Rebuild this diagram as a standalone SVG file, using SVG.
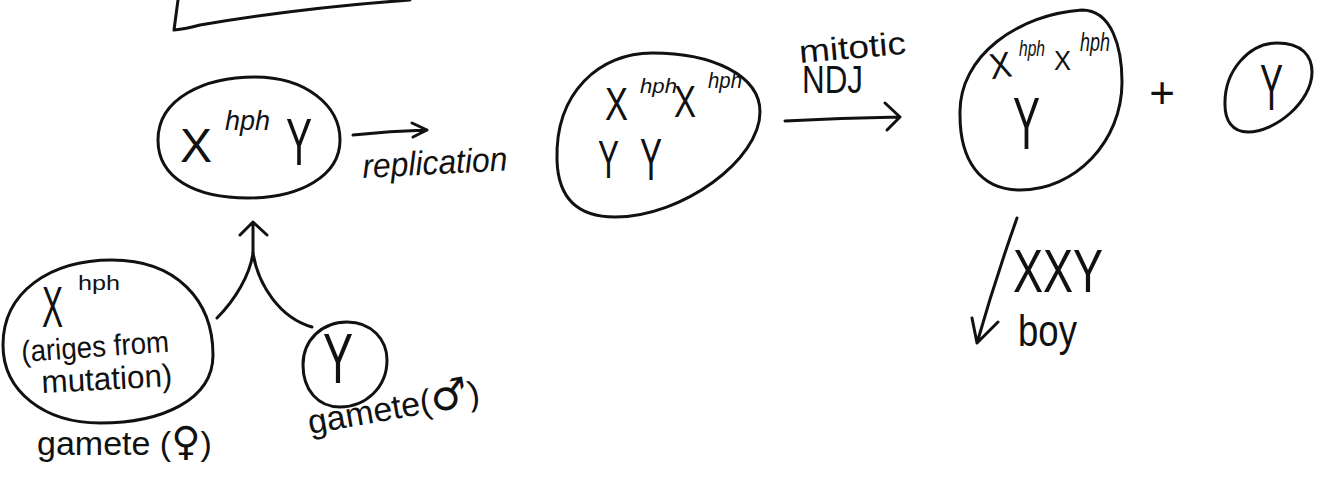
<svg xmlns="http://www.w3.org/2000/svg" width="1326" height="484" viewBox="0 0 1326 484">
<defs>
<style>
.sh{fill:none;stroke:#111;stroke-width:3;stroke-linecap:round;stroke-linejoin:round}
.t{font-family:"Liberation Sans","DejaVu Sans",sans-serif;fill:#111}
.sym{font-family:"DejaVu Sans","Liberation Sans",sans-serif}
</style>
</defs>
<rect width="1326" height="484" fill="#fff"/>
<g id="title-box">
<path class="sh" d="M178,0 L174,30 Q186,29 200,25 Q300,8 410,0"/>
</g>
<g id="zygote">
<path class="sh" d="M158,140 C158,98 205,77 255,77 C305,77 340,105 340,140 C340,176 300,198 248,198 C195,198 158,178 158,140 Z"/>
<text class="t" x="180" y="162" font-size="48" textLength="32" lengthAdjust="spacingAndGlyphs">X</text>
<text class="t" x="225" y="130" font-size="27" font-style="italic" textLength="45" lengthAdjust="spacingAndGlyphs">hph</text>
<text class="t" x="286" y="165" font-size="66" textLength="26" lengthAdjust="spacingAndGlyphs">Y</text>
</g>
<g id="replicated">
<path class="sh" d="M557,160 C555,92 600,53 652,53 C712,53 760,75 760,112 C760,160 682,217 615,217 C575,217 558,196 557,160 Z"/>
<text class="t" x="605" y="120" font-size="46" textLength="23" lengthAdjust="spacingAndGlyphs">X</text>
<text class="t" x="640" y="93" font-size="21" font-style="italic" textLength="37" lengthAdjust="spacingAndGlyphs">hph</text>
<text class="t" x="674" y="117" font-size="45" textLength="22" lengthAdjust="spacingAndGlyphs">X</text>
<text class="t" x="708" y="88" font-size="22" font-style="italic" textLength="34" lengthAdjust="spacingAndGlyphs">hph</text>
<text class="t" x="598" y="178" font-size="53" textLength="21" lengthAdjust="spacingAndGlyphs">Y</text>
<text class="t" x="640" y="180" font-size="60" textLength="22" lengthAdjust="spacingAndGlyphs">Y</text>
</g>
<g id="cell-xxy">
<path class="sh" d="M960,115 C958,55 1020,14 1082,10 C1112,10 1122,48 1122,82 C1122,142 1075,190 1020,190 C980,190 960,160 960,115 Z"/>
<text class="t" x="990" y="78" font-size="36" textLength="22" lengthAdjust="spacingAndGlyphs" transform="rotate(-8 1000 70)">X</text>
<text class="t" x="1019" y="56" font-size="22" font-style="italic" textLength="26" lengthAdjust="spacingAndGlyphs">hph</text>
<text class="t" x="1054" y="70" font-size="28" textLength="17" lengthAdjust="spacingAndGlyphs">X</text>
<text class="t" x="1080" y="51" font-size="25" font-style="italic" textLength="30" lengthAdjust="spacingAndGlyphs">hph</text>
<text class="t" x="1013" y="149" font-size="74" textLength="27" lengthAdjust="spacingAndGlyphs">Y</text>
</g>
<g id="plus">
<text class="t" x="1162" y="108" font-size="44" text-anchor="middle">+</text>
</g>
<g id="cell-y">
<path class="sh" d="M1225,105 C1224,70 1250,43 1277,43 C1302,43 1312,56 1312,72 C1312,102 1275,132 1248,132 C1232,132 1225,120 1225,105 Z"/>
<text class="t" x="1260" y="110" font-size="65" textLength="23" lengthAdjust="spacingAndGlyphs">Y</text>
</g>
<g id="gamete-female">
<path class="sh" d="M3,345 C3,292 50,260 112,260 C176,260 213,300 213,355 C213,400 162,423 100,423 C45,423 3,392 3,345 Z"/>
<text class="t" x="42" y="327" font-size="58" textLength="21" lengthAdjust="spacingAndGlyphs">X</text>
<text class="t" x="78" y="290" font-size="20" textLength="42" lengthAdjust="spacingAndGlyphs">hph</text>
<text class="t" x="22" y="362" font-size="30" textLength="148" lengthAdjust="spacingAndGlyphs" transform="rotate(-4 22 362)">(ariges from</text>
<text class="t" x="42" y="393" font-size="32" textLength="131" lengthAdjust="spacingAndGlyphs" transform="rotate(-3 42 393)">mutation)</text>
<text class="t" x="37" y="455" font-size="34">gamete (<tspan class="sym" font-size="40">♀</tspan>)</text>
</g>
<g id="gamete-male">
<path class="sh" d="M303,365 C303,340 322,322 347,322 C372,322 387,340 387,360 C387,388 365,407 340,407 C318,407 303,390 303,365 Z"/>
<text class="t" x="323" y="383" font-size="70" textLength="30" lengthAdjust="spacingAndGlyphs">Y</text>
<text class="t" x="310" y="434" font-size="34" transform="rotate(-10 310 434)">gamete(<tspan class="sym" font-size="42">♂</tspan>)</text>
</g>
<g id="labels">
<text class="t" x="363" y="178" font-size="34" font-style="italic" textLength="145" lengthAdjust="spacingAndGlyphs" transform="rotate(-3 363 178)">replication</text>
<text class="t" x="800" y="63" font-size="32" textLength="107" lengthAdjust="spacingAndGlyphs" transform="rotate(-5 800 63)">mitotic</text>
<text class="t" x="802" y="93" font-size="39" textLength="61" lengthAdjust="spacingAndGlyphs">NDJ</text>
<text class="t" x="1013" y="292" font-size="62" textLength="90" lengthAdjust="spacingAndGlyphs">XXY</text>
<text class="t" x="1018" y="346" font-size="44" textLength="59" lengthAdjust="spacingAndGlyphs">boy</text>
</g>
<g id="connectors">
<path class="sh" d="M353,135 Q390,131 427,130 M412,123 L427,130 L413,137"/>
<path class="sh" d="M785,121 Q840,118 900,117 M885,103 L900,117 L887,130"/>
<path class="sh" d="M1017,218 Q995,280 977,343 M972,318 L977,343 L998,322"/>
<path class="sh" d="M253,253 L253,224 M240,235 L253,222 L267,235"/>
<path class="sh" d="M217,318 C235,300 250,275 253,253 C258,285 280,318 312,327"/>
</g>
</svg>
